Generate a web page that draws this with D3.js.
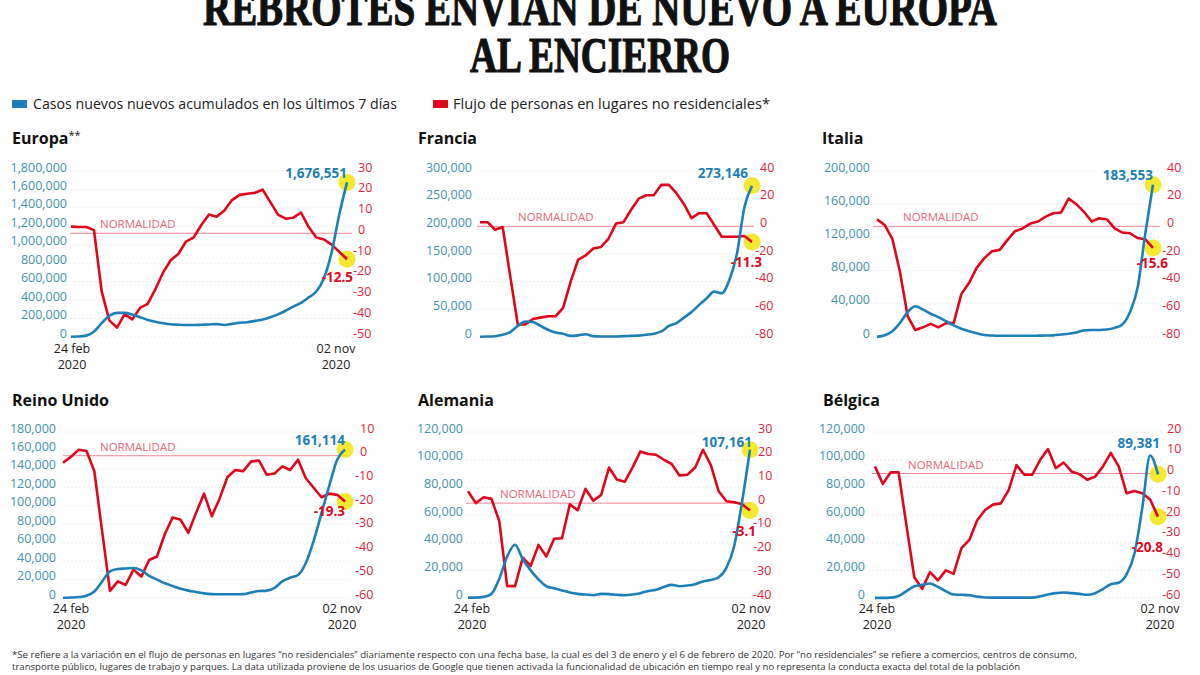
<!DOCTYPE html>
<html><head><meta charset="utf-8">
<script src="https://cdn.jsdelivr.net/npm/d3@7"></script>
<style>
body{margin:0;background:#fff;}
svg{display:block;font-family:'Open Sans',sans-serif;}
</style>
</head><body>
<svg id="c" width="1200" height="675"></svg>
<script>
// ---------------- DATA ----------------
const titleLines = ["REBROTES ENVIAN DE NUEVO A EUROPA", "AL ENCIERRO"];
const legendLabels = ["Casos nuevos nuevos acumulados en los últimos 7 días", "Flujo de personas en lugares no residenciales*"];
const countries = ["Europa", "Francia", "Italia", "Reino Unido", "Alemania", "Bélgica"];
const countryMarks = ["**", "", "", "", "", ""];
const startDate = new Date(2020, 1, 24);   // 24 feb 2020, weekly points to 02 nov 2020
const dateLabels = [["24 feb", "2020"], ["02 nov", "2020"]];
const normalLabel = "NORMALIDAD";

const casesEuropa = [3000,5000,15000,60000,150000,230000,262000,262000,245000,215000,185000,165000,150000,138000,133000,130000,130000,133000,136000,140000,130000,142000,155000,160000,175000,190000,215000,245000,285000,330000,370000,430000,493000,640000,920000,1330000,1676551];
const flowEuropa  = [3.2,3,3,1.5,-28,-42,-45.5,-39,-41.5,-36,-34,-27,-19,-13,-10,-4,-2,4,9,8,11,16,18.5,19,19.5,21,15,9,7,7.5,10,3,-2,-3,-5.5,-9,-12.5];

const casesFrancia = [500,800,1500,4000,9000,20000,28000,27000,20000,13000,8000,6000,2000,3000,5000,1500,1000,1000,1000,1500,2000,2500,4000,6000,10000,20000,25000,35000,45000,58000,70000,82000,79000,103000,150000,235000,273146];
const flowFrancia  = [3,3,-2.5,-0.5,-36,-71,-71,-67,-66,-65,-65,-59,-40,-24,-21,-16,-15,-9,2,3,12,20,22.5,22.5,30,30,24,16,6,9.5,9.5,1,-7.5,-7.5,-7.5,-7,-11.3];

const casesItalia = [200,2000,7000,17000,30000,37000,33000,28000,24000,19000,14000,10000,7000,4500,2500,1800,1500,1500,1500,1500,1500,1600,1800,2000,3000,4000,5500,8000,8500,8500,9000,11000,15000,30000,60000,125000,183553];
const flowItalia  = [5,1,-9,-33,-65,-75,-73,-70.5,-73,-70,-70,-49,-41,-30,-23,-18,-17,-10,-3.5,-1.5,2,3.5,7,9.5,10,20,16,10.5,3.5,5.8,5,-1.5,-4.5,-5,-8.5,-9.5,-15.6];

const casesReinoUnido = [200,500,1000,2500,7000,18000,29000,31500,32000,32500,30000,24000,20000,16000,13000,10000,8000,6500,5000,4200,4000,4000,4000,4200,6000,7500,8000,11000,18000,22000,25000,38000,62000,92000,122000,150000,161114];
const flowReinoUnido  = [-3,-0.5,2.5,2,-6.5,-32,-57,-53,-54.5,-48,-51,-44,-42.5,-33,-26,-27,-32.5,-24,-16,-25.5,-18,-9,-6,-6.5,-2.5,-2,-8,-7.5,-4.5,-6,-1.7,-9.5,-13.5,-17.5,-16,-16.5,-19.3];

const casesAlemania = [300,300,800,3000,14000,30000,38500,28000,20000,13500,8500,7000,5500,4000,3000,2500,2000,3000,2800,2300,2000,2500,3500,5000,6000,8000,9500,8500,9000,10000,12000,13000,15000,22000,38000,70000,107161];
const flowAlemania  = [5,0,2.5,1.8,-7.7,-35,-35,-23,-26.5,-17.6,-22.5,-15,-14.8,-0.5,-3,6,1,3.5,15,10,9,15,21.8,20.7,20.4,18.3,16.5,11.7,12,15,22.5,16,5,0.8,0.4,-0.5,-3.1];

const casesBelgica = [100,100,300,1500,5000,8500,9500,10500,8000,5000,2500,2300,2000,1000,400,300,300,300,300,300,300,1200,2500,3500,4000,3500,3000,2300,3500,6500,10000,11000,17000,32000,65000,103000,89381];
const flowBelgica  = [3.4,-5,0.6,0.6,-25,-50,-55.6,-47.5,-51.5,-46.7,-48.3,-36,-32,-22.5,-17.6,-15,-14.4,-8,4,-0.6,-0.6,6.5,11.8,2.6,5.3,1,-0.3,-3,-1.5,3.4,9.9,3.4,-9.5,-8.4,-9.5,-12.5,-20.8];

const leftTicksEuropa = [0,200000,400000,600000,800000,1000000,1200000,1400000,1600000,1800000];
const leftTicksFrancia = [0,50000,100000,150000,200000,250000,300000];
const leftTicksItalia = [0,40000,80000,120000,160000,200000];
const leftTicksReinoUnido = [0,20000,40000,60000,80000,100000,120000,140000,160000,180000];
const leftTicksAlemania = [0,20000,40000,60000,80000,100000,120000];
const leftTicksBelgica = [0,20000,40000,60000,80000,100000,120000];

const rightTicksEuropa = [30,20,10,0,-10,-20,-30,-40,-50];
const rightTicksFrancia = [40,20,0,-20,-40,-60,-80];
const rightTicksItalia = [40,20,0,-20,-40,-60,-80];
const rightTicksReinoUnido = [10,0,-10,-20,-30,-40,-50,-60];
const rightTicksAlemania = [30,20,10,0,-10,-20,-30,-40];
const rightTicksBelgica = [20,10,0,-10,-20,-30,-40,-50,-60];

const footnoteLines = [
  "*Se refiere a la variación en el flujo de personas en lugares \u201cno residenciales\u201d diariamente respecto con una fecha base, la cual es del 3 de enero y el 6 de febrero de 2020. Por \u201cno residenciales\u201d se refiere a comercios, centros de consumo,",
  "transporte público, lugares de trabajo y parques. La data utilizada proviene de los usuarios de Google que tienen activada la funcionalidad de ubicación en tiempo real y no representa la conducta exacta del total de la población"
];

// ---------------- LAYOUT (positions only) ----------------
const layout = [
 {x0:71,x1:347,gx0:70,gx1:352,top:171,bottom:337,lx:67,rx:358,tx:12,ty:144,dates:[72,336],dy:[353,369],bl:[0,-4],rl:[6,23],nx:100},
 {x0:480,x1:752,gx0:477,gx1:754,top:171,bottom:337,lx:472,rx:760,tx:418,ty:144,dates:null,bl:[-4,-8],rl:[10,25],nx:518},
 {x0:877,x1:1153,gx0:873,gx1:1160,top:171,bottom:337,lx:870,rx:1167,tx:822,ty:144,dates:null,bl:[0,-5],rl:[15,20],nx:903},
 {x0:63,x1:345,gx0:63,gx1:350,top:432,bottom:598,lx:56,rx:360,tx:12,ty:406,dates:[71,342],dy:[613,629],bl:[0,-4],rl:[0,15],nx:100},
 {x0:468,x1:750,gx0:466,gx1:751,top:432,bottom:598,lx:463,rx:758,tx:418,ty:406,dates:[472,751],dy:[613,629],bl:[2,-3],rl:[6,26],nx:500},
 {x0:875,x1:1158,gx0:872,gx1:1163,top:432,bottom:598,lx:865,rx:1167,tx:823,ty:406,dates:[877,1160],dy:[613,629],bl:[2,-26],rl:[5,35],nx:908}
];

const BLUE = "#1d7fb8", RED = "#e2061c", LBLUE = "#4492ad", LRED = "#e3243d";

const casesAll = [casesEuropa, casesFrancia, casesItalia, casesReinoUnido, casesAlemania, casesBelgica];
const flowAll = [flowEuropa, flowFrancia, flowItalia, flowReinoUnido, flowAlemania, flowBelgica];
const leftTicksAll = [leftTicksEuropa, leftTicksFrancia, leftTicksItalia, leftTicksReinoUnido, leftTicksAlemania, leftTicksBelgica];
const rightTicksAll = [rightTicksEuropa, rightTicksFrancia, rightTicksItalia, rightTicksReinoUnido, rightTicksAlemania, rightTicksBelgica];

// ---------------- DRAW ----------------
const svg = d3.select("#c");
svg.append("rect").attr("width",1200).attr("height",675).attr("fill","#fff");

// Title
svg.append("text").attr("x",600).attr("y",25).attr("text-anchor","middle")
  .attr("font-family","'Liberation Serif',serif").attr("font-weight","bold").attr("font-size",50)
  .attr("textLength",794).attr("lengthAdjust","spacingAndGlyphs").attr("fill","#111")
  .attr("stroke","#111").attr("stroke-width",1.2)
  .text(titleLines[0]);
svg.append("text").attr("x",600).attr("y",72).attr("text-anchor","middle")
  .attr("font-family","'Liberation Serif',serif").attr("font-weight","bold").attr("font-size",50)
  .attr("textLength",260).attr("lengthAdjust","spacingAndGlyphs").attr("fill","#111")
  .attr("stroke","#111").attr("stroke-width",1.2)
  .text(titleLines[1]);

// Legend
const leg = [{x:12,tx:33,w:364,c:BLUE},{x:433,tx:453,w:317,c:RED}];
leg.forEach((l,i)=>{
  svg.append("rect").attr("x",l.x).attr("y",100).attr("width",15).attr("height",8).attr("fill",l.c);
  svg.append("text").attr("x",l.tx).attr("y",109).attr("font-size",15).attr("fill","#222")
    .attr("textLength",l.w).attr("lengthAdjust","spacingAndGlyphs").text(legendLabels[i]);
});

const dates = d3.range(casesEuropa.length).map(i => d3.timeDay.offset(startDate, 7*i));

countries.forEach((name, k) => {
  const L = layout[k];
  const cases = casesAll[k], flow = flowAll[k];
  const lt = leftTicksAll[k], rt = rightTicksAll[k];
  const g = svg.append("g");

  const x = d3.scaleTime().domain([dates[0], dates[dates.length-1]]).range([L.x0, L.x1]);
  const yL = d3.scaleLinear().domain([0, d3.max(lt)]).range([L.bottom, L.top]);
  const yR = d3.scaleLinear().domain([d3.min(rt), d3.max(rt)]).range([L.bottom, L.top]);

  // title
  const t = g.append("text").attr("x",L.tx).attr("y",L.ty).attr("font-size",16).attr("font-weight","bold").attr("fill","#111").text(name);
  if (countryMarks[k]) t.append("tspan").attr("font-size",11).attr("dy",-5).attr("font-weight","normal").text(countryMarks[k]);

  // grid
  g.selectAll("line.grid").data(lt).join("line")
    .attr("x1",L.gx0).attr("x2",L.gx1).attr("y1",d=>yL(d)).attr("y2",d=>yL(d))
    .attr("stroke","#e2e2e2").attr("stroke-width",0.8).attr("stroke-dasharray","1.5,2.5");

  // left axis
  const axL = d3.axisLeft(yL).tickValues(lt).tickFormat(d3.format(",")).tickSize(0).tickPadding(0);
  const gl = g.append("g").attr("transform",`translate(${L.lx},0)`).call(axL);
  gl.select(".domain").remove();
  gl.selectAll("text").attr("fill",LBLUE).attr("font-size",12.5).attr("font-family","'Open Sans',sans-serif").attr("y",-4);

  // right axis
  const axR = d3.axisRight(yR).tickValues(rt).tickFormat(d=>String(d)).tickSize(0).tickPadding(0);
  const gr = g.append("g").attr("transform",`translate(${L.rx},0)`).call(axR);
  gr.select(".domain").remove();
  gr.selectAll("text").attr("fill",LRED).attr("font-size",12.5).attr("font-family","'Open Sans',sans-serif").attr("y",-4)
    .attr("x",d=> d<0 ? -5 : 0);

  // normalidad
  g.append("line").attr("x1",L.gx0).attr("x2",L.gx1).attr("y1",yR(0)).attr("y2",yR(0))
    .attr("stroke","#f08898").attr("stroke-width",1);
  g.append("text").attr("x",L.nx).attr("y",yR(0)-5).attr("font-size",11.5).attr("fill","#e9677b").text(normalLabel);

  // highlight circles
  const n = cases.length-1;
  g.append("circle").attr("cx",x(dates[n])).attr("cy",yL(cases[n])).attr("r",8.5).attr("fill","#f4e61e").attr("opacity",0.92);
  g.append("circle").attr("cx",x(dates[n])).attr("cy",yR(flow[n])).attr("r",8.5).attr("fill","#f4e61e").attr("opacity",0.92);

  // lines
  g.append("path").datum(flow).attr("fill","none").attr("stroke",RED).attr("stroke-width",2.6).attr("stroke-linejoin","round")
    .attr("d", d3.line().x((d,i)=>x(dates[i])).y(d=>yR(d)));
  g.append("path").datum(cases).attr("fill","none").attr("stroke",BLUE).attr("stroke-width",2.6).attr("stroke-linejoin","round")
    .attr("d", d3.line().curve(d3.curveMonotoneX).x((d,i)=>x(dates[i])).y(d=>yL(d)));

  // value labels
  g.append("text").attr("x",x(dates[n])+L.bl[0]).attr("y",yL(cases[n])+L.bl[1]).attr("text-anchor","end")
    .attr("font-size",13.5).attr("font-weight","bold").attr("fill",BLUE).text(d3.format(",")(cases[n]));
  g.append("text").attr("x",x(dates[n])+L.rl[0]).attr("y",yR(flow[n])+L.rl[1]).attr("text-anchor","end")
    .attr("font-size",13.5).attr("font-weight","bold").attr("fill",RED).text(flow[n].toFixed(1));

  // dates
  if (L.dates) {
    L.dates.forEach((dx,j)=>{
      dateLabels[j].forEach((s,m)=>{
        g.append("text").attr("x",dx).attr("y",L.dy[m]).attr("text-anchor","middle").attr("font-size",12.5).attr("fill","#222").text(s);
      });
    });
  }
});

// footnote
footnoteLines.forEach((s,i)=>{
  svg.append("text").attr("x",12).attr("y",658+i*12).attr("font-size",9.5).attr("fill","#333")
    .attr("textLength", i===0 ? 1065 : 1008).attr("lengthAdjust","spacingAndGlyphs").text(s);
});
</script>
</body></html>
